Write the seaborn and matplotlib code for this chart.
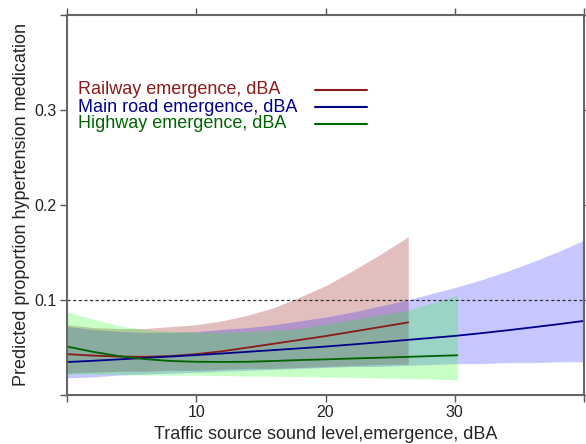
import numpy as np
import pandas as pd
import matplotlib
matplotlib.use("Agg")
import matplotlib.pyplot as plt
import seaborn as sns

# Railway emergence
rail_x = [0, 2, 4, 6, 8, 10, 12, 14, 16, 18, 20, 22, 24, 26, 26.4]
rail_fit = [0.0430, 0.0415, 0.0405, 0.0402, 0.0410, 0.0430, 0.0460, 0.0500,
            0.0540, 0.0580, 0.0620, 0.0665, 0.0710, 0.0755, 0.0765]
rail_hi = [0.074, 0.071, 0.070, 0.070, 0.072, 0.074, 0.078, 0.084,
           0.092, 0.103, 0.115, 0.130, 0.146, 0.163, 0.167]
rail_lo = [0.023, 0.024, 0.025, 0.025, 0.026, 0.026, 0.027, 0.028,
           0.028, 0.029, 0.030, 0.031, 0.032, 0.0325, 0.0326]

# Main road emergence
road_x = [0, 2, 4, 6, 8, 10, 12, 14, 16, 18, 20, 22, 24, 26, 28, 30,
          32, 34, 36, 38, 40]
road_fit = [0.0347, 0.0360, 0.0375, 0.0390, 0.0405, 0.0420, 0.0437, 0.0455,
            0.0473, 0.0491, 0.0510, 0.0531, 0.0553, 0.0576, 0.0599, 0.0622,
            0.0650, 0.0680, 0.0712, 0.0745, 0.0780]
road_hi = [0.072, 0.069, 0.067, 0.066, 0.066, 0.0667, 0.069, 0.071,
           0.074, 0.078, 0.082, 0.087, 0.093, 0.099, 0.106, 0.113,
           0.121, 0.130, 0.140, 0.151, 0.163]
road_lo = [0.018, 0.019, 0.021, 0.022, 0.023, 0.024, 0.025, 0.026,
           0.027, 0.028, 0.029, 0.030, 0.030, 0.031, 0.032, 0.033,
           0.033, 0.034, 0.034, 0.035, 0.035]

# Highway emergence
hw_x = [0, 2, 4, 6, 8, 10, 12, 14, 16, 18, 20, 22, 24, 26, 28, 30, 30.2]
hw_fit = [0.0510, 0.0455, 0.0410, 0.0378, 0.0358, 0.0350, 0.0348, 0.0350,
          0.0358, 0.0368, 0.0375, 0.0384, 0.0392, 0.0400, 0.0409, 0.0417, 0.0418]
hw_hi = [0.0877, 0.080, 0.073, 0.069, 0.067, 0.066, 0.066, 0.067,
         0.068, 0.070, 0.0745, 0.079, 0.084, 0.088, 0.096, 0.104, 0.105]
hw_lo = [0.022, 0.022, 0.0215, 0.021, 0.021, 0.021, 0.0205, 0.020,
         0.0198, 0.0193, 0.019, 0.0185, 0.018, 0.0175, 0.017, 0.016, 0.0158]

labels = ["Railway emergence, dBA", "Main road emergence, dBA", "Highway emergence, dBA"]
line_cols = ["#8b1a1a", "#00008b", "#006400"]
fill_cols = ["#a52a2a", "#0000ff", "#00ff00"]
fill_alpha = [0.3, 0.22, 0.22]

sns.set_style("ticks")
plt.rcParams["font.family"] = ["Liberation Sans", "DejaVu Sans"]

fig = plt.figure(figsize=(5.86, 4.44), dpi=100)
ax = fig.add_axes([67/586, 49/444, 517/586, 380/444])

groups = [(rail_x, rail_fit, rail_lo, rail_hi),
          (road_x, road_fit, road_lo, road_hi),
          (hw_x, hw_fit, hw_lo, hw_hi)]

for i, (x, fit, lo, hi) in enumerate(groups):
    ax.fill_between(x, lo, hi, color=fill_cols[i], alpha=fill_alpha[i], linewidth=0)
    df = pd.DataFrame({"x": x, "y": fit})
    sns.lineplot(data=df, x="x", y="y", ax=ax, color=line_cols[i], lw=1.3, legend=False)

ax.axhline(0.1, color="#333333", ls=(0, (2.5, 2)), lw=0.9)

ax.set_xlim(0, 40)
ax.set_ylim(0, 0.4)
ax.set_xticks([0, 10, 20, 30, 40])
ax.set_xticklabels(["", "10", "20", "30", ""])
ax.set_yticks([0, 0.1, 0.2, 0.3, 0.4])
ax.set_yticklabels(["", "0.1", "0.2", "0.3", ""])
ax.tick_params(axis="both", which="both", direction="out", length=5, width=1,
               color="#555555", labelsize=11.5, labelcolor="#222222",
               top=True, right=True, pad=2.5)

for s in ax.spines.values():
    s.set_color("#666666")
    s.set_linewidth(1.5)

ax.set_xlabel("Traffic source sound level,emergence, dBA", fontsize=13, labelpad=4)
ax.set_ylabel("Predicted proportion hypertension medication", fontsize=13, labelpad=3)

# legend: text on the left, line key on the right
key_y = [0.8030, 0.7575, 0.7135]
for lab, c, yy in zip(labels, line_cols, key_y):
    ax.text(0.021, yy, lab, color=c, fontsize=13, va="center", ha="left",
            transform=ax.transAxes)
    ax.plot([0.48, 0.58], [yy, yy], color=c, lw=1.5, transform=ax.transAxes)

fig.savefig("out.png", dpi=100)
